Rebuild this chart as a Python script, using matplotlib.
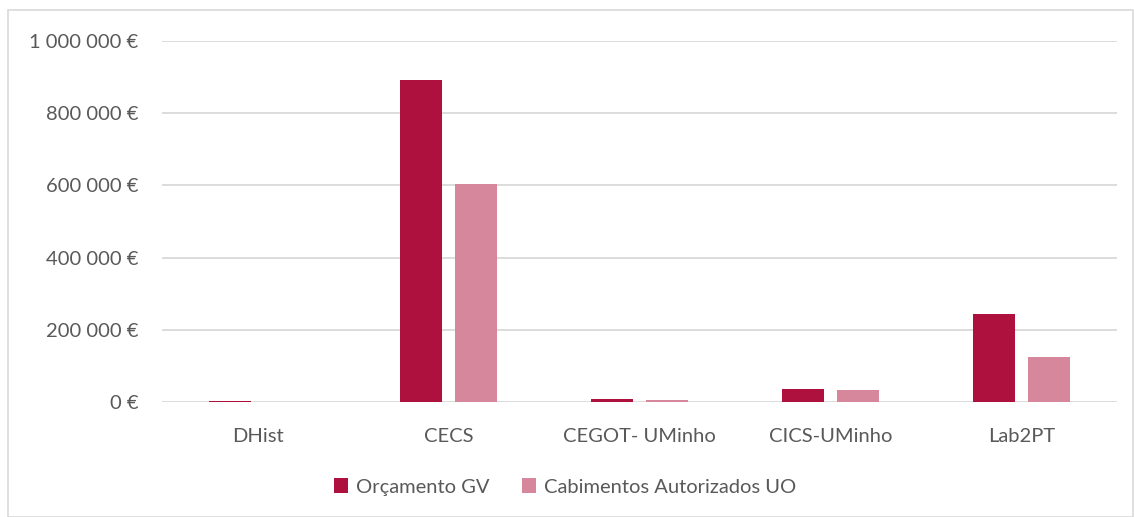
import matplotlib.pyplot as plt
import matplotlib.patches as mpatches
import numpy as np

categorias = ['DHist', 'CECS', 'CEGOT- UMinho', 'CICS-UMinho', 'Lab2PT']
orcamento_gv = [4000, 893000, 8000, 35000, 244000]
cabimentos_uo = [0, 605000, 5000, 33000, 124000]
yticks = [0, 200000, 400000, 600000, 800000, 1000000]

cor_orc = '#AE113D'
cor_cab = '#D7879B'
cor_texto = '#595959'

plt.rcParams['font.family'] = ['Lato', 'DejaVu Sans']

fig = plt.figure(figsize=(11.34, 5.17), dpi=100)
ax = fig.add_axes([162 / 1134, 115 / 517, 955 / 1134, 361 / 517])

x = np.arange(len(categorias))
largura = 0.225
desloc = 0.144
ax.bar(x - desloc, orcamento_gv, largura, color=cor_orc, label='Orçamento GV', zorder=3)
ax.bar(x + desloc, cabimentos_uo, largura, color=cor_cab, label='Cabimentos Autorizados UO', zorder=3)

ax.set_xlim(-0.5, len(categorias) - 0.5)
ax.set_ylim(0, 1000000)
ax.set_yticks(yticks)
ax.set_yticklabels([f'{v:,.0f} €'.replace(',', ' ') for v in yticks])
ax.set_xticks(x)
ax.set_xticklabels(categorias)

ax.grid(axis='y', color='#D9D9D9', linewidth=1.3, zorder=0)
ax.tick_params(axis='both', length=0, labelsize=14.5, colors=cor_texto)
ax.tick_params(axis='y', pad=17)
ax.tick_params(axis='x', pad=19)
for s in ax.spines.values():
    s.set_visible(False)

ax.legend(loc='center', bbox_to_anchor=(565 / 1134, 1 - 487 / 517), bbox_transform=fig.transFigure,
          ncol=2, frameon=False, fontsize=14.5, labelcolor=cor_texto,
          handlelength=0.7, handleheight=0.7, handletextpad=0.4, columnspacing=1.6)

# borda do gráfico
fig.patches.append(mpatches.Rectangle((8 / 1134, 0), 1125 / 1134, 507 / 517, transform=fig.transFigure,
                                      fill=False, edgecolor='#D9D9D9', linewidth=1.2))

fig.savefig('out.png', dpi=100)
